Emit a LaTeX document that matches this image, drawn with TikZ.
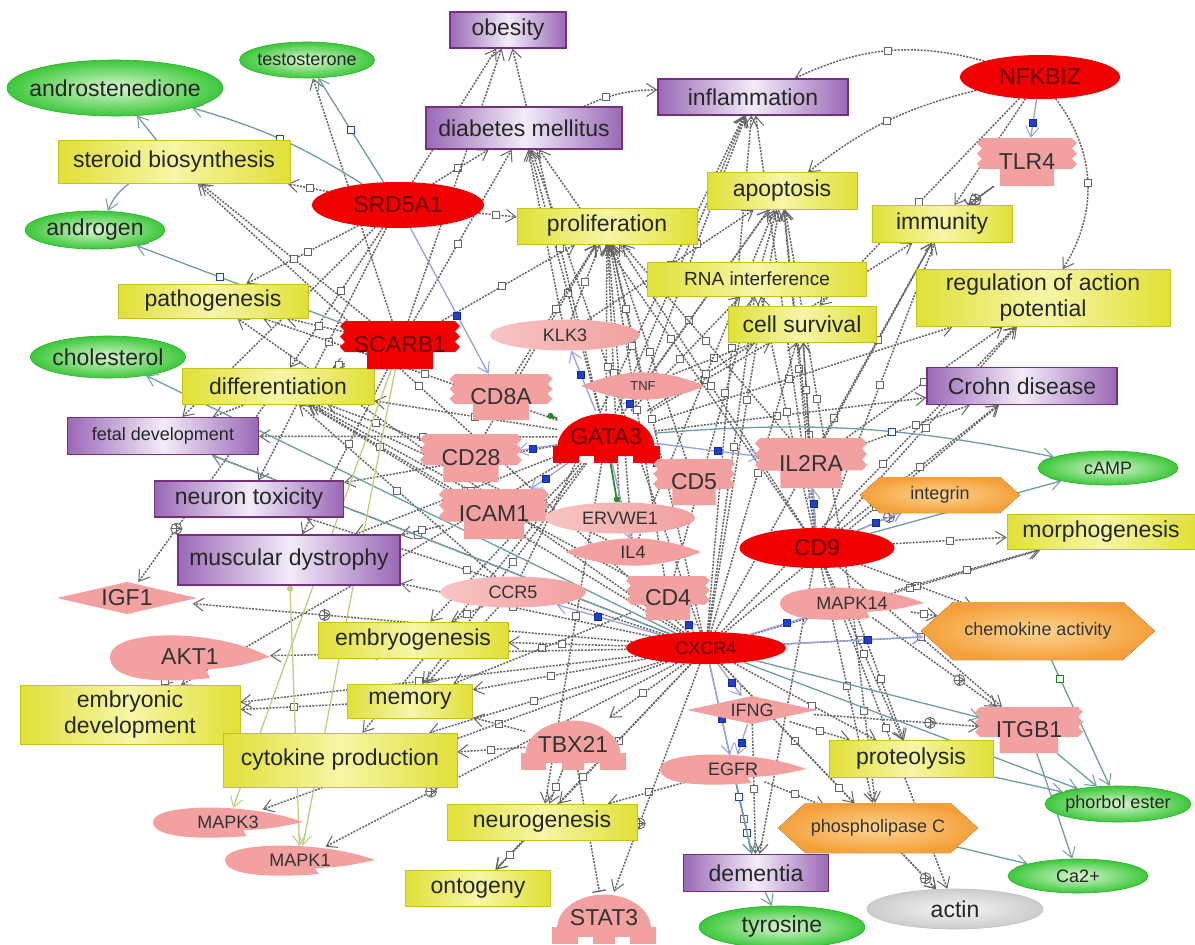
\documentclass[tikz,border=0pt]{standalone}
\usepackage{fontspec}
\setmainfont{Liberation Sans}
\usetikzlibrary{arrows.meta,shapes.geometric}
\pgfdeclarelayer{back}
\pgfdeclarelayer{bg}
\pgfsetlayers{back,bg,main}
\definecolor{yel}{HTML}{E0E036}
\definecolor{yelL}{HTML}{F6F6A6}
\definecolor{yelB}{HTML}{C4C420}
\definecolor{pur}{HTML}{9A68B6}
\definecolor{purL}{HTML}{F2ECF8}
\definecolor{purB}{HTML}{74307F}
\definecolor{grn}{HTML}{3CC83A}
\definecolor{grnL}{HTML}{D8F6D0}
\definecolor{grnD}{HTML}{2AAE2A}
\definecolor{redn}{HTML}{F00000}
\definecolor{redt}{HTML}{6A0000}
\definecolor{pnk}{HTML}{F2A0A0}
\definecolor{pnkL}{HTML}{F8C4C4}
\definecolor{org}{HTML}{F4A03A}
\definecolor{orgL}{HTML}{FDD592}
\definecolor{edg}{HTML}{646464}
\definecolor{tealg}{HTML}{6E9EA2}
\definecolor{blu}{HTML}{1F3FD0}
\definecolor{lav}{HTML}{98A0E2}
\definecolor{oliv}{HTML}{C6CA7E}
\definecolor{grline}{HTML}{2F8A2F}
\newcommand\fbig{\fontsize{23}{26}\selectfont}
\newcommand\fsml{\fontsize{18}{20}\selectfont}
\newcommand\ftny{\fontsize{13}{14}\selectfont}
\newcommand\zb[1]{\makebox[0pt][c]{#1}}
\tikzset{
 boxn/.style={rectangle, inner sep=0pt, text=black!85},
 proc/.style={boxn, draw=yelB, line width=0.6pt, left color=yel, right color=yel, middle color=yelL, font=\fbig, align=center},
 dis/.style={boxn, draw=purB, line width=1.2pt, left color=pur, right color=pur, middle color=purL, font=\fbig},
 mol/.style={ellipse, inner sep=0pt, draw=grnD, line width=0.6pt, inner color=grnL, outer color=grn, font=\fbig, text=black!85},
 rnode/.style={ellipse, inner sep=0pt, fill=redn, text=redt, font=\fbig},
 pell/.style={ellipse, inner sep=0pt, left color=pnkL, right color=pnk, text=black!80, font=\fsml},
 hid/.style={ellipse, inner sep=0pt, text=black!80},
 hidr/.style={rectangle, inner sep=0pt, text=black!80},
 hexfill/.style={inner color=orgL, outer color=org},
 eRel/.style={draw=edg, line width=1.5pt, dash pattern=on 2pt off 1.3pt, -{Straight Barb[length=10pt,width=13pt,line width=1pt]}},
 eReg/.style={draw=tealg, line width=1.3pt, -{Straight Barb[length=10pt,width=13pt,line width=1pt]}},
 eBl/.style={draw=lav, line width=1.3pt, -{Straight Barb[length=10pt,width=13pt,line width=1pt]}},
 eGr/.style={draw=grline, line width=1.8pt, -{Circle[length=6pt]}},
 eOl/.style={draw=oliv, line width=1.3pt, -{Straight Barb[length=10pt,width=13pt,line width=1pt]}},
 gsq/.style={rectangle, solid, draw=black!60, fill=white, line width=1pt, minimum size=7pt, inner sep=0pt},
 bsq/.style={rectangle, solid, draw=blu!70!black, fill=blu, line width=0.6pt, minimum size=7pt, inner sep=0pt},
 bosq/.style={rectangle, solid, draw=blu, fill=white, line width=1.1pt, minimum size=7pt, inner sep=0pt},
 grsq/.style={rectangle, solid, draw=green!60!black, fill=white, line width=1.1pt, minimum size=7pt, inner sep=0pt},
 pls/.style={circle, solid, draw=black!60, fill=white, line width=0.9pt, minimum size=11pt, inner sep=0pt,
   path picture={\draw[black!60,line width=0.9pt] (path picture bounding box.north) -- (path picture bounding box.south)
   (path picture bounding box.west) -- (path picture bounding box.east);}}
}
% receptor: name cx cy w h fill nodeopts text
\newcommand{\recp}[8]{%
 \fill[#6] ({#2-#4/2},{#3-#5/2}) -- ({#2+#4/2},{#3-#5/2})
  -- ++(5,{#5*0.108}) -- ++(-5,{#5*0.108}) -- ++(5,{#5*0.108}) -- ++(-5,{#5*0.108}) -- ++(5,{#5*0.108}) -- ++(-5,{#5*0.108})
  -- ({#2+#4*0.3},{#3+#5*0.15}) -- ({#2+#4*0.3},{#3+#5/2}) -- ({#2-#4*0.3},{#3+#5/2}) -- ({#2-#4*0.3},{#3+#5*0.15})
  -- ({#2-#4/2},{#3+#5*0.15}) -- ++(-5,{-#5*0.108}) -- ++(5,{-#5*0.108}) -- ++(-5,{-#5*0.108}) -- ++(5,{-#5*0.108}) -- ++(-5,{-#5*0.108}) -- cycle;
 \node[hidr,minimum width=#4,minimum height=#5,#7] (#1) at (#2,#3) {\zb{#8}};}
% transcription factor
\newcommand{\tfac}[8]{%
 \fill[#6] ({#2-#4/2},{#3+#5*0.2}) arc[start angle=180,end angle=360,x radius={#4/2},y radius={#5*0.65}] -- cycle;
 \fill[#6] ({#2-#4/2-5},{#3+#5*0.18}) rectangle ({#2+#4/2+5},{#3+#5*0.36});
 \fill[#6] ({#2-#4/2-5},{#3+#5*0.35}) rectangle ({#2-#4*0.28},{#3+#5*0.5});
 \fill[#6] ({#2-#4*0.12},{#3+#5*0.35}) rectangle ({#2+#4*0.12},{#3+#5*0.5});
 \fill[#6] ({#2+#4*0.28},{#3+#5*0.35}) rectangle ({#2+#4/2+5},{#3+#5*0.5});
 \node[hidr,minimum width=#4,minimum height=#5,#7] (#1) at (#2,#3) {\zb{#8}};}
% kinase
\newcommand{\kin}[8]{%
 \fill[#6] ({#2+#4},{#3}) .. controls ({#2+0.3*#4},{#3-1.4*#5}) and ({#2-#4},{#3-1.35*#5}) .. ({#2-#4},{#3})
   .. controls ({#2-#4},{#3+1.3*#5}) and ({#2-0.2*#4},{#3+1.2*#5}) .. ({#2+0.25*#4},{#3+#5})
   -- ({#2+0.2*#4},{#3+0.6*#5}) .. controls ({#2+0.6*#4},{#3+0.45*#5}) .. cycle;
 \node[hid,minimum width={2*#4},minimum height={2*#5},#7] (#1) at (#2,#3) {\zb{#8}};}
% lens
\newcommand{\lens}[8]{%
 \fill[#6] ({#2-#4},{#3}) .. controls ({#2-0.3*#4},{#3-1.4*#5}) and ({#2+0.3*#4},{#3-1.4*#5}) .. ({#2+#4},{#3})
   .. controls ({#2+0.3*#4},{#3+1.4*#5}) and ({#2-0.3*#4},{#3+1.4*#5}) .. cycle;
 \node[hid,minimum width={2*#4},minimum height={2*#5},#7] (#1) at (#2,#3) {\zb{#8}};}
% diamond
\newcommand{\diam}[8]{%
 \fill[#6] ({#2-#4},{#3}) -- ({#2},{#3-#5}) -- ({#2+#4},{#3}) -- ({#2},{#3+#5}) -- cycle;
 \node[hid,minimum width={2*#4},minimum height={2*#5},#7] (#1) at (#2,#3) {\zb{#8}};}
% hexagon
\newcommand{\hexa}[8]{%
 \fill[#6] ({#2-#4},{#3}) -- ({#2-#4+#5*1.1},{#3-#5}) -- ({#2+#4-#5*1.1},{#3-#5}) -- ({#2+#4},{#3}) -- ({#2+#4-#5*1.1},{#3+#5}) -- ({#2-#4+#5*1.1},{#3+#5}) -- cycle;
 \node[hid,minimum width={2*#4},minimum height={2*#5},#7] (#1) at (#2,#3) {\zb{#8}};}
\begin{document}
\begin{tikzpicture}[x=1pt,y=-1pt]
\useasboundingbox (0,0) rectangle (1195,945);
\begin{pgfonlayer}{back}
\fill[white] (0,0) rectangle (1195,945);
\end{pgfonlayer}
% ---------- small molecules
\node[mol,minimum width=135,minimum height=36,font=\fsml] (testo) at (307,60) {\zb{testosterone}};
\node[mol,minimum width=216,minimum height=56] (andros) at (115,88) {\zb{androstenedione}};
\node[mol,minimum width=140,minimum height=38] (androgen) at (95,230) {\zb{androgen}};
\node[mol,minimum width=155,minimum height=42] (chol) at (108,357) {\zb{cholesterol}};
\node[mol,minimum width=140,minimum height=34,font=\fsml] (camp) at (1108,468) {\zb{cAMP}};
\node[mol,minimum width=146,minimum height=36,font=\fsml] (phorbol) at (1118,804) {\zb{phorbol ester}};
\node[mol,minimum width=140,minimum height=34,font=\fsml] (ca) at (1078,876) {\zb{Ca2+}};
\node[mol,minimum width=166,minimum height=42] (tyro) at (782,927) {\zb{tyrosine}};
\node[mol,draw=gray!50,inner color=gray!8,outer color=gray!40,minimum width=176,minimum height=40] (actin) at (955,909) {\zb{actin}};
% ---------- diseases
\node[dis,minimum width=116,minimum height=36] (obes) at (508,30) {obesity};
\node[dis,minimum width=190,minimum height=36] (infl) at (753,97) {inflammation};
\node[dis,minimum width=196,minimum height=42] (diab) at (524,128) {diabetes mellitus};
\node[dis,minimum width=190,minimum height=37] (crohn) at (1022,386) {Crohn disease};
\node[dis,minimum width=191,minimum height=37,font=\fsml] (fetal) at (163,436) {fetal development};
\node[dis,minimum width=189,minimum height=36] (neutox) at (249,499) {neuron toxicity};
\node[dis,minimum width=222,minimum height=50] (musc) at (289,560) {muscular dystrophy};
\node[dis,minimum width=145,minimum height=37] (dem) at (756,873) {dementia};
% ---------- processes
\node[proc,minimum width=232,minimum height=43] (steroid) at (174,162) {steroid biosynthesis};
\node[proc,minimum width=190,minimum height=34] (patho) at (213,301) {pathogenesis};
\node[proc,minimum width=192,minimum height=36] (diff) at (278,386) {differentiation};
\node[proc,minimum width=180,minimum height=36] (prolif) at (607,226) {proliferation};
\node[proc,minimum width=150,minimum height=37] (apop) at (782,191) {apoptosis};
\node[proc,minimum width=140,minimum height=37] (immun) at (942,224) {immunity};
\node[proc,minimum width=219,minimum height=34,font=\fontsize{19}{21}\selectfont] (rna) at (757,279) {RNA interference};
\node[proc,minimum width=254,minimum height=57] (rap) at (1043,298) {regulation of action\\potential};
\node[proc,minimum width=148,minimum height=36] (surv) at (802,324) {cell survival};
\node[proc,minimum width=188,minimum height=35] (morph) at (1101,532) {morphogenesis};
\node[proc,minimum width=190,minimum height=36] (embryog) at (413,640) {embryogenesis};
\node[proc,minimum width=220,minimum height=59] (embdev) at (130,715) {embryonic\\development};
\node[proc,minimum width=125,minimum height=34] (memory) at (410,701) {memory};
\node[proc,minimum width=234,minimum height=54] (cyto) at (340,760) {cytokine production};
\node[proc,minimum width=190,minimum height=36] (neurog) at (542,822) {neurogenesis};
\node[proc,minimum width=145,minimum height=36] (ontog) at (478,888) {ontogeny};
\node[proc,minimum width=164,minimum height=37] (proteo) at (911,759) {proteolysis};
% ---------- red proteins
\node[rnode,minimum width=160,minimum height=44] (nfkbiz) at (1040,77) {\zb{NFKBIZ}};
\node[rnode,minimum width=172,minimum height=46] (srd) at (398,205) {\zb{SRD5A1}};
\node[rnode,minimum width=155,minimum height=40] (cd9) at (817,548) {\zb{CD9}};
\node[rnode,minimum width=160,minimum height=32,font=\fsml] (cxcr4) at (706,648) {\zb{CXCR4}};
\recp{scarb1}{400}{345}{110}{48}{redn}{text=redt,font=\fbig}{SCARB1}
\tfac{gata3}{606}{437}{97}{52}{redn}{text=redt,font=\fbig}{GATA3}
% ---------- pink proteins
\recp{tlr4}{1027}{162}{90}{48}{pnk}{font=\fbig}{TLR4}
\node[pell,minimum width=150,minimum height=31] (klk3) at (565,335) {\zb{KLK3}};
\recp{cd8a}{501}{397}{93}{46}{pnk}{font=\fbig}{CD8A}
\lens{tnf}{643}{386}{62}{13}{pnk}{font=\ftny}{TNF}
\recp{cd28}{471}{458}{92}{48}{pnk}{font=\fbig}{CD28}
\recp{icam1}{494}{514}{100}{50}{pnk}{font=\fbig}{ICAM1}
\node[pell,minimum width=150,minimum height=31] (ervwe1) at (620,518) {\zb{ERVWE1}};
\recp{cd5}{694}{482}{72}{46}{pnk}{font=\fbig}{CD5}
\recp{il2ra}{811}{463}{102}{50}{pnk}{font=\fbig}{IL2RA}
\lens{il4}{633}{552}{68}{13}{pnk}{font=\fsml}{IL4}
\node[pell,minimum width=146,minimum height=31] (ccr5) at (513,592) {\zb{CCR5}};
\recp{cd4}{668}{598}{74}{44}{pnk}{font=\fbig}{CD4}
\kin{mapk14}{852}{603}{72}{15}{pnk}{font=\fsml}{MAPK14}
\diam{igf1}{127}{598}{70}{16}{pnk}{font=\fbig}{IGF1}
\kin{akt1}{190}{657}{80}{21}{pnk}{font=\fbig}{AKT1}
\diam{ifng}{752}{710}{65}{14}{pnk}{font=\fsml}{IFNG}
\tfac{tbx21}{573}{744}{95}{52}{pnk}{font=\fbig}{TBX21}
\kin{egfr}{733}{769}{73}{14}{pnk}{font=\fsml}{EGFR}
\recp{itgb1}{1029}{730}{98}{46}{pnk}{font=\fbig}{ITGB1}
\kin{mapk3}{228}{822}{75}{14}{pnk}{font=\fsml}{MAPK3}
\kin{mapk1}{300}{860}{75}{14}{pnk}{font=\fsml}{MAPK1}
\tfac{stat3}{604}{918}{94}{52}{pnk}{font=\fbig}{STAT3}
% ---------- functional classes
\hexa{integrin}{940}{495}{80}{18}{hexfill}{font=\fsml}{integrin}
\hexa{chemo}{1038}{631}{117}{29}{hexfill}{font=\fsml}{chemokine activity}
\hexa{plc}{878}{828}{100}{25}{hexfill}{font=\fsml}{phospholipase C}
% ================= connectors
\begin{pgfonlayer}{bg}
\foreach \a/\b in {srd/obes, srd/diab, srd/prolif, srd/steroid, srd/patho, srd/diff, srd/fetal, srd/neutox,
  scarb1/diff, scarb1/patho, scarb1/fetal, scarb1/obes, scarb1/diab, scarb1/prolif, scarb1/musc, scarb1/testo, scarb1/steroid,
  gata3/prolif, gata3/apop, gata3/diab, gata3/infl, gata3/rna, gata3/surv, gata3/immun, gata3/crohn, gata3/diff,
  gata3/patho, gata3/embryog, gata3/memory, gata3/cyto, gata3/neurog, gata3/musc, gata3/neutox, gata3/fetal,
  gata3/rap, gata3/embdev, gata3/obes}
  \draw[eRel] (\a) -- node[gsq,pos=0.45]{} (\b);
\foreach \a/\b in {cxcr4/prolif, cxcr4/apop, cxcr4/diab, cxcr4/rna, cxcr4/surv, cxcr4/immun, cxcr4/infl, cxcr4/patho,
  cxcr4/diff, cxcr4/fetal, cxcr4/neutox, cxcr4/musc, cxcr4/embryog, cxcr4/memory, cxcr4/cyto, cxcr4/embdev,
  cxcr4/neurog, cxcr4/ontog, cxcr4/tbx21, cxcr4/proteo, cxcr4/plc, cxcr4/actin, cxcr4/chemo,
  cxcr4/morph, cxcr4/crohn, cxcr4/rap, cxcr4/steroid}
  \draw[eRel] (\a) -- node[gsq,pos=0.55]{} (\b);
\foreach \a/\b in {cd9/apop, cd9/immun, cd9/rap, cd9/surv, cd9/rna, cd9/crohn, cd9/infl, cd9/prolif, cd9/morph,
  cd9/chemo, cd9/itgb1, cd9/proteo, cd9/plc, cd9/dem, cd9/actin, cd9/diab,
  nfkbiz/immun, nfkbiz/surv, klk3/prolif, klk3/apop, klk3/diab, tnf/apop, tnf/prolif, tnf/surv, tnf/infl,
  il2ra/prolif, il2ra/immun, il2ra/surv, il2ra/apop, il2ra/crohn, il2ra/rap,
  cd4/diff, cd4/prolif, cd4/memory, cd4/apop, ccr5/embryog, ccr5/memory, ccr5/diff, ccr5/infl,
  mapk14/chemo, mapk14/morph, mapk14/proteo, mapk14/plc, mapk14/apop,
  ifng/proteo, ifng/dem, tbx21/neurog, tbx21/cyto, tbx21/memory, neurog/ontog,
  akt1/embdev, memory/embdev, cd28/diff, cd28/prolif, icam1/musc, icam1/diff, cd8a/prolif, cd5/prolif,
  ervwe1/prolif, il4/prolif, il4/diff, il4/apop, egfr/dem, egfr/plc, egfr/neurog}
  \draw[eRel] (\a) -- node[gsq,pos=0.5]{} (\b);
% positive effects
\foreach \a/\b in {cxcr4/mapk3, cxcr4/mapk1, cxcr4/stat3, tlr4/immun, diff/igf1, cxcr4/akt1, mapk14/itgb1,
  plc/actin, cd9/integrin, cxcr4/igf1, ifng/itgb1}
  \draw[eRel] (\a) -- node[pls,pos=0.7]{} (\b);
% curved relations
\draw[eRel] (nfkbiz) to[bend right=20] node[gsq]{} (infl);
\draw[eRel] (nfkbiz) to[bend right=12] node[gsq]{} (apop);
\draw[eRel] (nfkbiz) to[bend left=35] node[gsq]{} (rap);
\draw[eRel] (diab) to[bend left=12] node[gsq,pos=0.3]{} (infl);
% inhibition
\draw[draw=edg,line width=1.3pt,-{Bar[width=14pt]}] (tlr4) -- (immun);
\draw[draw=edg,line width=1.5pt,dash pattern=on 2pt off 1.3pt,-{Bar[width=14pt,line width=1.3pt]}] (tbx21) -- (stat3);
% solid regulation
\draw[eReg] (srd) to[bend right=8] node[bosq]{} (andros);
\draw[eReg] (srd) -- node[bosq]{} (testo);
\draw[eReg] (steroid) -- (andros);
\draw[eReg] (steroid) to[bend right=15] (androgen);
\draw[eReg] (scarb1) -- node[bosq,pos=0.6]{} (androgen);
\draw[eReg] (cxcr4) -- (chol);
\draw[eReg] (cxcr4) -- (fetal);
\draw[eReg] (gata3) to[bend left=8] node[bosq,pos=0.6]{} (camp);
\draw[eReg] (cd9) -- node[bosq]{} (camp);
\draw[eReg] (cxcr4) -- (phorbol);
\draw[eReg] (cxcr4) -- (itgb1);
\draw[eReg] (itgb1) -- (phorbol);
\draw[eReg] (itgb1) -- (ca);
\draw[eReg] (chemo) -- node[grsq,pos=0.15]{} (phorbol);
\draw[eReg] (proteo) -- (phorbol);
\draw[eReg] (plc) -- (ca);
\draw[eReg] (dem) -- (tyro);
\draw[eReg] (egfr) -- node[bosq,pos=0.7]{} (dem);
\draw[eReg] (cxcr4) -- node[bosq,pos=0.7]{} (dem);
% protein-protein
\foreach \a/\b in {nfkbiz/tlr4, gata3/cd28, gata3/icam1, gata3/il2ra, gata3/cd5, gata3/klk3, gata3/tnf, srd/cd8a,
  gata3/il4, cxcr4/cd4, cxcr4/ifng, cxcr4/egfr, cxcr4/mapk14, cd9/il2ra, cxcr4/chemo, cxcr4/ccr5, ifng/egfr}
  \draw[eBl] (\a) -- node[bsq,pos=0.6]{} (\b);
\draw[eBl] (cd9) -- node[bsq,pos=0.4]{} (integrin);
\draw[eGr] (gata3) -- (cd8a);
\draw[eGr] (gata3) -- (ervwe1);
\draw[eOl] (scarb1) -- (mapk3);
\draw[eOl] (scarb1) -- (mapk1);
\draw[eOl,{Circle[length=6pt]}-{Straight Barb[length=10pt,width=13pt,line width=1pt]}] (musc) -- (mapk1);
\end{pgfonlayer}
\end{tikzpicture}
\end{document}
